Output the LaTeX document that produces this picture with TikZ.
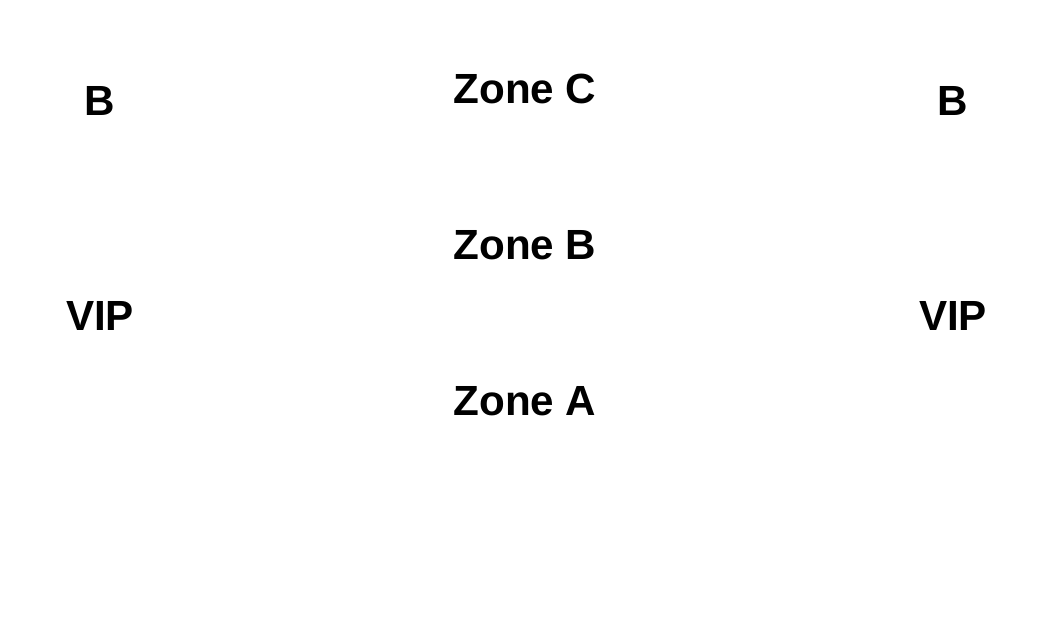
\documentclass[tikz,border=0pt]{standalone}
\usepackage{fontspec}
\setmainfont{Liberation Sans}

\tikzset{lbl/.style={font=\fontsize{12}{14}\selectfont\bfseries, inner sep=0pt}}

\begin{document}
\begin{tikzpicture}
      \useasboundingbox (0,0) rectangle (10.5,6.3);
      \node[lbl] (zoneC) at (5.25,5.41) {Zone C};
      \node[lbl] (zoneB) at (5.25,3.85) {Zone B};
      \node[lbl] (zoneA) at (5.25,2.29) {Zone A};
      \node[lbl] (bLeft) at (1.0,5.29) {B};
      \node[lbl] (bRight) at (9.53,5.29) {B};
      \node[lbl] (vipLeft) at (1.0,3.14) {VIP};
      \node[lbl] (vipRight) at (9.53,3.14) {VIP};
    \end{tikzpicture}
\end{document}
